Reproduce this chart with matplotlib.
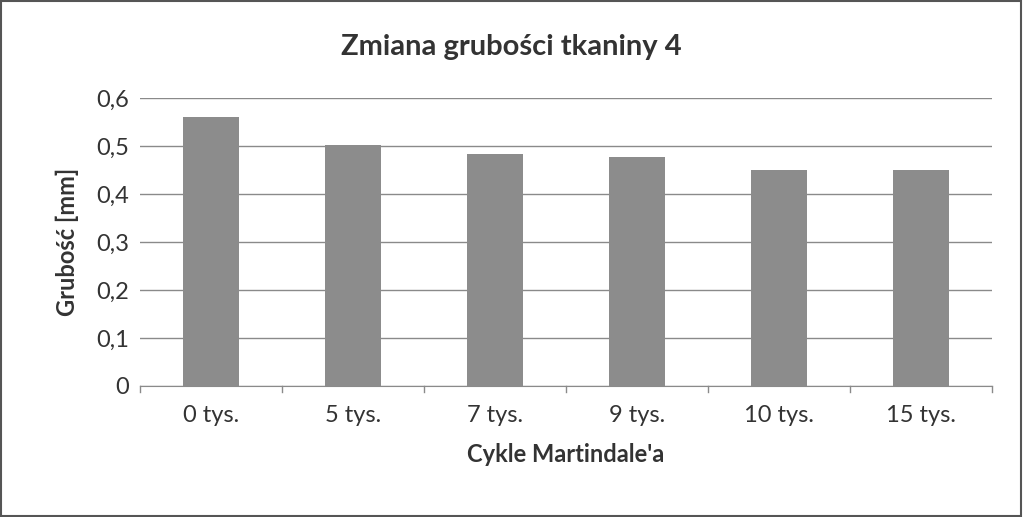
import matplotlib
matplotlib.use("Agg")
import matplotlib.pyplot as plt

categories = ["0 tys.", "5 tys.", "7 tys.", "9 tys.", "10 tys.", "15 tys."]
values = [0.560, 0.503, 0.484, 0.478, 0.451, 0.451]
yticks = [0, 0.1, 0.2, 0.3, 0.4, 0.5, 0.6]
ytick_labels = ["0", "0,1", "0,2", "0,3", "0,4", "0,5", "0,6"]

plt.rcParams['font.family'] = ['Lato', 'DejaVu Sans']
fig = plt.figure(figsize=(10.23, 5.17), dpi=100)
ax = fig.add_axes([140/1023, 1-386/517, (992-140)/1023, (386-98)/517])
x = range(len(categories))
ax.bar(x, values, width=0.4, color="#8c8c8c", zorder=3)
ax.set_xlim(-0.5, len(categories)-0.5)
ax.set_ylim(0, 0.6)
ax.set_yticks(yticks)
ax.set_yticklabels(ytick_labels, fontsize=17, color="#333333")
ax.set_xticks(list(x))
ax.set_xticklabels(categories, fontsize=17, color="#333333")
ax.yaxis.grid(True, color="#8a8a8a", linewidth=1, zorder=0)
for s in ["top", "right", "left"]:
    ax.spines[s].set_visible(False)
ax.spines["bottom"].set_color("#8a8a8a")
ax.tick_params(axis="y", length=0, pad=8)
ax.tick_params(axis="x", length=0, pad=14)
# category separator ticks
for b in [i - 0.5 for i in range(len(categories)+1)]:
    ax.plot([b, b], [0, -0.012], color="#8a8a8a", lw=1, clip_on=False)
ax.set_xlabel("Cykle Martindale'a", fontsize=17, fontweight="bold", color="#333333", labelpad=12)
ax.set_ylabel("Grubość [mm]", fontsize=17, fontweight="bold", color="#333333", labelpad=12)
fig.suptitle("Zmiana grubości tkaniny 4", fontsize=21, fontweight="bold", color="#333333", y=0.935)
fig.patches.append(plt.Rectangle((0.001, 0.002), 0.997, 0.996, transform=fig.transFigure,
                                 fill=False, edgecolor="#555555", lw=1.5))
fig.savefig("out.png", dpi=100)
